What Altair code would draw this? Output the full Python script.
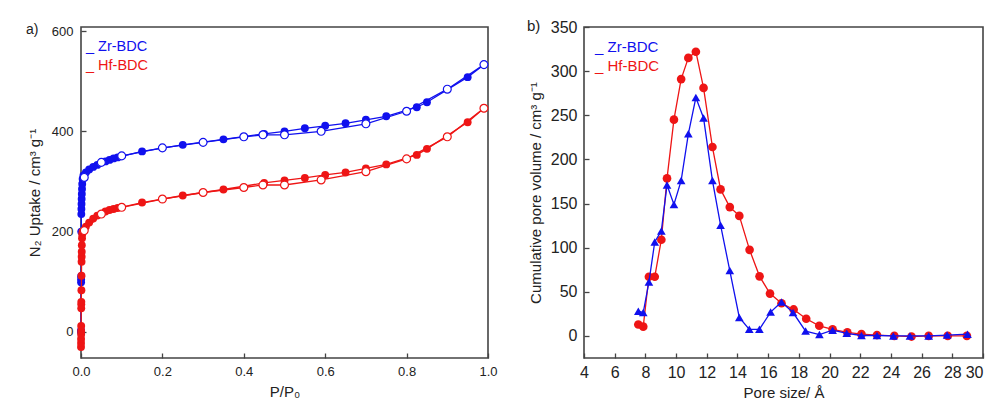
import altair as alt
import pandas as pd

FONT = "Liberation Sans"
materials = ["Zr-BDC", "Hf-BDC"]
colors = ["#1010ee", "#ee1515"]
frame = "#444444"

# ---------------- panel a: N2 isotherms ----------------
zr_ads_p = [0.00005, 0.0001, 0.0002, 0.0003, 0.0004, 0.0006, 0.0008, 0.001, 0.0013, 0.0016,
            0.002, 0.0025, 0.003, 0.004, 0.006, 0.012, 0.02, 0.03, 0.04, 0.06, 0.07, 0.08, 0.09,
            0.15, 0.25, 0.35, 0.45, 0.5, 0.55, 0.6, 0.65, 0.7, 0.75, 0.825, 0.85, 0.95, 0.99]
zr_ads_v = [0, 3, 99, 105, 111, 200, 235, 245, 255, 265,
            275, 285, 295, 305, 312, 318, 324, 329, 333, 340, 343, 346, 348,
            360, 373, 384, 395, 400, 406, 411, 416, 423, 430, 448, 458, 508, 533]
zr_des_p = [0.99, 0.9, 0.8, 0.7, 0.59, 0.5, 0.447, 0.4, 0.3, 0.2, 0.1, 0.05, 0.008]
zr_des_v = [533, 484, 440, 415, 400, 393, 393, 389, 378, 367, 351, 338, 308]

hf_ads_p = [0.00005, 0.0001, 0.0002, 0.0003, 0.0004, 0.0005, 0.0006, 0.0007, 0.0008, 0.001,
            0.0012, 0.0014, 0.0016, 0.0018, 0.002, 0.0025, 0.003, 0.004, 0.012, 0.02, 0.03,
            0.04, 0.06, 0.07, 0.08, 0.09, 0.15, 0.25, 0.35, 0.45, 0.5, 0.55, 0.6, 0.65, 0.7,
            0.75, 0.825, 0.85, 0.95, 0.99]
hf_ads_v = [-30, -22, -14, -5, 2, 12, 47, 55, 60, 83,
            112, 140, 150, 160, 173, 187, 195, 200, 210, 218, 226,
            232, 240, 243, 245, 247, 258, 272, 284, 297, 302, 307, 313, 318, 326,
            334, 353, 365, 418, 446]
hf_des_p = [0.99, 0.9, 0.8, 0.7, 0.59, 0.5, 0.447, 0.4, 0.3, 0.2, 0.1, 0.05, 0.008]
hf_des_v = [446, 389, 345, 319.5, 303, 293, 293, 288, 278, 265, 248.5, 235, 202]

iso_x_domain = [0, 1]
iso_y_domain = [-52, 608]
iso_x_ticks = [0.0, 0.2, 0.4, 0.6, 0.8, 1.0]
iso_y_ticks = [0, 200, 400, 600]

# ---------------- panel b: pore size distribution ----------------
zr_size = [7.54, 7.86, 8.23, 8.61, 9.04, 9.41, 9.86, 10.33, 10.8, 11.29, 11.79, 12.37, 12.9,
           13.5, 14.12, 14.77, 15.43, 16.16, 16.87, 17.62, 18.44, 19.34, 20.2, 21.12, 22.08,
           23.09, 24.16, 25.24, 26.46, 27.66, 28.99]
zr_vol = [28, 26.5, 61, 106.5, 119, 171, 149, 176, 229, 270, 247, 176, 125.5,
          74, 21, 7.5, 7.5, 27, 38.5, 26.5, 5.5, 1.5, 6.5, 3, 0.5,
          0.5, 0, 0, 0, 1, 2]
hf_size = [7.54, 7.86, 8.23, 8.61, 9.04, 9.41, 9.86, 10.33, 10.8, 11.29, 11.79, 12.37, 12.9,
           13.5, 14.12, 14.79, 15.44, 16.12, 16.87, 17.66, 18.48, 19.33, 20.2, 21.16, 22.08,
           23.09, 24.22, 25.34, 26.46, 27.7, 28.95]
hf_vol = [13, 10.5, 67, 67, 109, 178.5, 245, 291, 315, 322, 281, 214, 166,
          146, 136, 97.5, 67.5, 48, 37, 30, 19.5, 11.5, 7.5, 4, 2,
          1, 0, -0.7, 0, 0, 0]

psd_x_domain = [4, 30]
psd_y_domain = [-25, 350]
psd_x_ticks = list(range(4, 31, 2))
psd_y_ticks = list(range(0, 351, 50))

panel_labels = ["a)", "b)"]

# ---------------- data frames ----------------
def frame_of(p, v, mat, branch):
    return pd.DataFrame({"x": p, "y": v, "material": mat, "branch": branch,
                         "i": list(range(len(p)))})

iso = pd.concat([
    frame_of(zr_ads_p, zr_ads_v, materials[0], "ads"),
    frame_of(zr_des_p, zr_des_v, materials[0], "des"),
    frame_of(hf_ads_p, hf_ads_v, materials[1], "ads"),
    frame_of(hf_des_p, hf_des_v, materials[1], "des"),
], ignore_index=True)

psd = pd.concat([
    frame_of(zr_size, zr_vol, materials[0], "psd"),
    frame_of(hf_size, hf_vol, materials[1], "psd"),
], ignore_index=True)

one = pd.DataFrame({"k": [0]})

color_scale = alt.Scale(domain=materials, range=colors)
col = alt.Color("material:N", scale=color_scale, legend=None)
view = alt.ViewBackground(stroke=frame, strokeWidth=1.6, fill="white")


def axis(values, fmt, title, labelsize, titlesize, pad, tpad, extra=None):
    # inward ticks: axis pulled 5 px into the plot, ticks 5 px long
    kw = dict(values=values, format=fmt, title=title, grid=False, domain=False,
              ticks=True, tickSize=5, offset=-5, tickColor=frame, tickWidth=1.3,
              labelFlush=False, labelOverlap=False,
              labelFont=FONT, labelFontSize=labelsize, labelColor="#222",
              titleFont=FONT, titleFontSize=titlesize, titleFontWeight="normal",
              titleColor="#222", labelPadding=pad, titlePadding=tpad)
    if extra:
        kw.update(extra)
    return alt.Axis(**kw)


def text_at(label, x, y, size, color):
    return alt.Chart(one).mark_text(align="left", baseline="middle", font=FONT,
                                    fontSize=size, color=color).encode(
        x=alt.value(x), y=alt.value(y), text=alt.value(label))


# ---------- left panel ----------
W1, H = 407, 331
xa = alt.X("x:Q", scale=alt.Scale(domain=iso_x_domain, nice=False, zero=False),
           axis=axis(iso_x_ticks, ".1f", "P/P₀", 13, 15, 7, 6))
ya = alt.Y("y:Q", scale=alt.Scale(domain=iso_y_domain, nice=False, zero=False),
           axis=axis(iso_y_ticks, "d", "N₂ Uptake / cm³ g⁻¹", 13, 15, 8, 9))

base_a = alt.Chart(iso)
layers_a = []
for m in materials:
    sub = base_a.transform_filter(alt.datum.material == m)
    layers_a.append(sub.mark_line(strokeWidth=1.3).encode(
        x=xa, y=ya, color=col, detail="branch:N", order="i:Q"))
    layers_a.append(sub.transform_filter(alt.datum.branch == "ads").mark_point(
        shape="circle", filled=True, size=62, opacity=1).encode(x=xa, y=ya, color=col))
    layers_a.append(sub.transform_filter(alt.datum.branch == "des").mark_point(
        shape="circle", filled=False, fill="white", fillOpacity=1, size=62,
        strokeWidth=1.2, opacity=1).encode(x=xa, y=ya, color=col))

leg_a = [text_at("_ " + materials[k], 5, 20 + 19 * k, 14.5, colors[k]) for k in range(2)]
lab_a = text_at(panel_labels[0], -55, 3, 14, "#222")

left = alt.layer(*layers_a, *leg_a, lab_a).properties(width=W1, height=H, view=view)

# ---------- right panel ----------
W2 = 399
xb = alt.X("x:Q", scale=alt.Scale(domain=psd_x_domain, nice=False, zero=False),
           axis=axis(psd_x_ticks, "d", "Pore size/ Å", 16, 15, 6, 5,
                     extra=dict(labelAlign=alt.condition("datum.value == 30",
                                                         alt.value("right"),
                                                         alt.value("center")))))
yb = alt.Y("y:Q", scale=alt.Scale(domain=psd_y_domain, nice=False, zero=False),
           axis=axis(psd_y_ticks, "d", "Cumulative pore volume / cm³ g⁻¹", 16, 15, 7, 7))

base_b = alt.Chart(psd)
layers_b = []
shapes = {materials[0]: "triangle-up", materials[1]: "circle"}
for m in [materials[1], materials[0]]:
    sub = base_b.transform_filter(alt.datum.material == m)
    layers_b.append(sub.mark_line(strokeWidth=1.3).encode(
        x=xb, y=yb, color=col, order="i:Q"))
    layers_b.append(sub.mark_point(shape=shapes[m], filled=True, size=75, opacity=1).encode(
        x=xb, y=yb, color=col))

leg_b = [text_at("_ " + materials[k], 11, 20 + 19 * k, 15, colors[k]) for k in range(2)]
lab_b = text_at(panel_labels[1], -57, -1, 15, "#222")

right = alt.layer(*layers_b, *leg_b, lab_b).properties(width=W2, height=H, view=view)

chart = alt.hconcat(left, right, spacing=28).configure_view(
    stroke=frame, strokeWidth=1.6, fill="white"
).properties(
    padding={"left": 17, "top": 10, "right": 0, "bottom": 5},
    background="white"
)

chart.save("out.html", embed_options={"renderer": "svg", "actions": False})
